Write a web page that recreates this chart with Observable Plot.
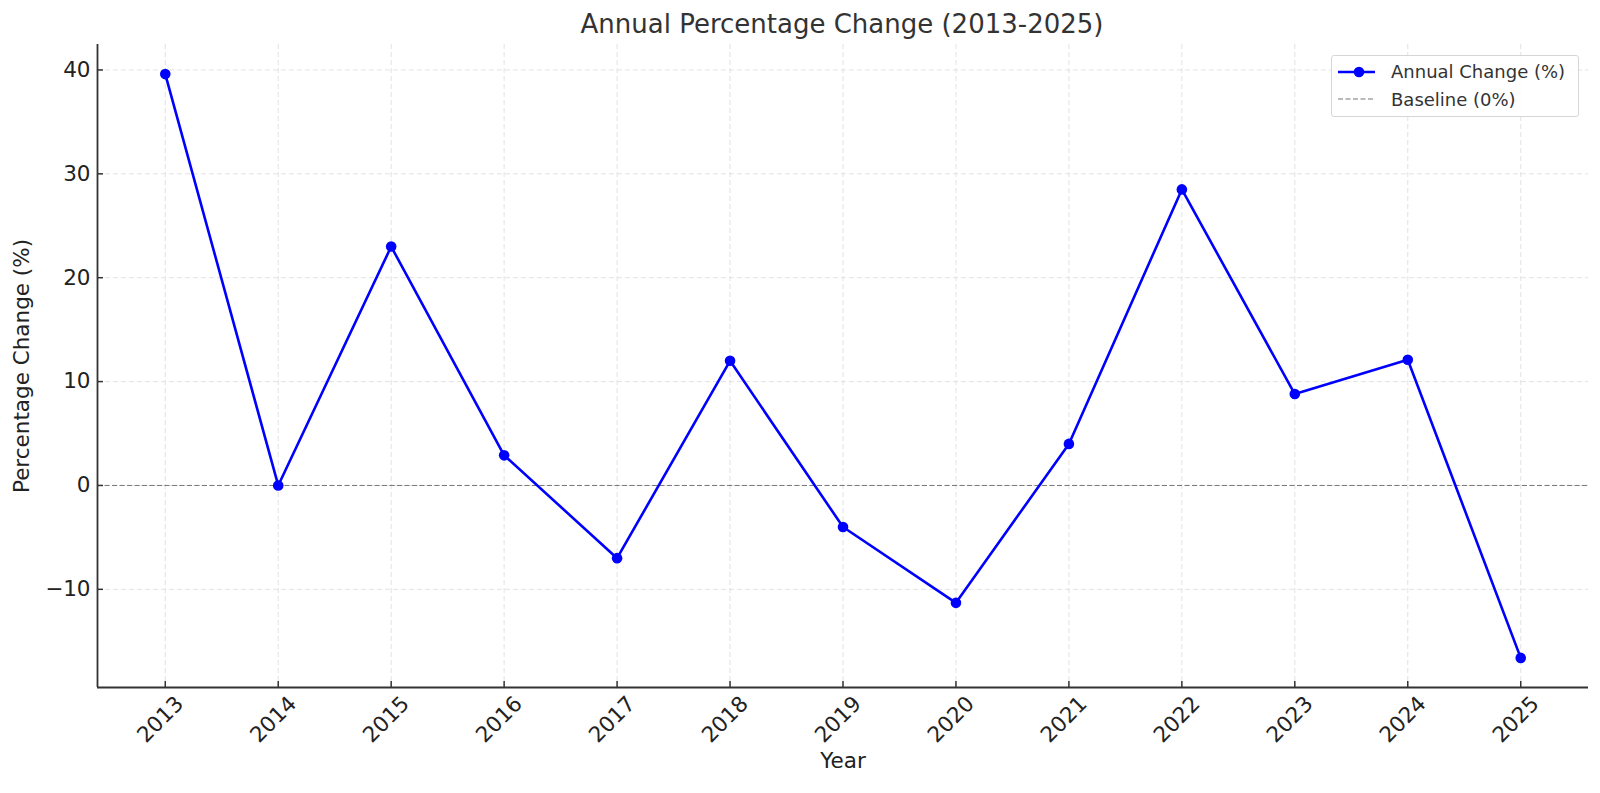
<!DOCTYPE html>
<html>
<head>
<meta charset="utf-8">
<script src="https://cdn.jsdelivr.net/npm/d3@7"></script>
<script src="https://cdn.jsdelivr.net/npm/@observablehq/plot@0.6"></script>
<style>
  html, body { margin: 0; padding: 0; background: #fff; }
  #wrap { position: relative; width: 1600px; height: 793px; font-family: "DejaVu Sans", sans-serif; color: #222; }
  #title { height: 40px; line-height: 48px; padding-left: 84px; text-align: center; font-size: 26px; color: #333; white-space: nowrap; }
  #legend { position: absolute; left: 1331px; top: 55px; width: 246px; height: 60px; border: 1px solid #d6d6d6; border-radius: 3px; background: rgba(255,255,255,0.85); font-size: 18px; color: #333; }
  .row { position: absolute; left: 0; height: 24px; display: flex; align-items: center; white-space: nowrap; }
  .row svg { margin-left: 6px; margin-right: 16px; }
</style>
</head>
<body>
<div id="wrap">
  <div id="title">Annual Percentage Change (2013-2025)</div>
  <div id="chart"></div>
  <div id="legend">
    <div class="row" style="top:3.7px"><svg width="37" height="12"><line x1="0" y1="6" x2="37" y2="6" stroke="#0000ff" stroke-width="2.6"/><circle cx="21" cy="6" r="5.3" fill="#0000ff"/></svg><span>Annual Change (%)</span></div>
    <div class="row" style="top:31.3px"><svg width="37" height="12"><line x1="0" y1="6" x2="37" y2="6" stroke="#777" stroke-width="1" stroke-dasharray="5,2.5"/></svg><span>Baseline (0%)</span></div>
  </div>
</div>
<script>
const years = [2013, 2014, 2015, 2016, 2017, 2018, 2019, 2020, 2021, 2022, 2023, 2024, 2025];
const changes = [39.6, 0.0, 23.0, 2.9, -7.0, 12.0, -4.0, -11.3, 4.0, 28.5, 8.8, 12.1, -16.6];
const yTicks = [-10, 0, 10, 20, 30, 40];
const xLabel = "Year";
const yLabel = "Percentage Change (%)";

const data = years.map((year, i) => ({year, value: changes[i]}));

const width = 1600, height = 753;
const mL = 97, mR = 12, mT = 4, mB = 106;
const xDom = [2012.4, 2025.6];
const yDom = [-19.45, 42.45];
const pxX = (width - mL - mR) / (xDom[1] - xDom[0]);
const pxY = (height - mT - mB) / (yDom[1] - yDom[0]);
const tickLen = 6;
const fs = 21.5;

const chart = Plot.plot({
  width, height,
  marginLeft: mL, marginRight: mR, marginTop: mT, marginBottom: mB,
  style: {fontFamily: "'DejaVu Sans', sans-serif", fontSize: fs + "px", color: "#222", background: "#fff"},
  x: {domain: xDom, axis: null},
  y: {domain: yDom, axis: null},
  marks: [
    Plot.gridX(years, {stroke: "#e2e2e2", strokeOpacity: 1, strokeDasharray: "5,3", strokeWidth: 1}),
    Plot.gridY(yTicks, {stroke: "#e2e2e2", strokeOpacity: 1, strokeDasharray: "5,3", strokeWidth: 1}),
    Plot.ruleY([0], {stroke: "#777", strokeWidth: 1, strokeDasharray: "5,2.5"}),
    Plot.line(data, {x: "year", y: "value", stroke: "#0000ff", strokeWidth: 2.6}),
    Plot.dot(data, {x: "year", y: "value", r: 5.3, fill: "#0000ff", stroke: null}),
    // spines
    Plot.ruleX([xDom[0]], {stroke: "#333", strokeWidth: 1.8}),
    Plot.ruleY([yDom[0]], {stroke: "#333", strokeWidth: 1.8}),
    // inward ticks
    Plot.ruleY(yTicks, {x1: xDom[0], x2: xDom[0] + tickLen / pxX, stroke: "#333", strokeWidth: 1.5}),
    Plot.ruleX(years, {y1: yDom[0], y2: yDom[0] + tickLen / pxY, stroke: "#333", strokeWidth: 1.5}),
    // y tick labels
    Plot.axisY(yTicks, {anchor: "left", tickSize: 0, tickPadding: 7, fontSize: fs, fill: "#222", label: null,
      tickFormat: d => (d < 0 ? "\u2212" + Math.abs(d) : String(d))}),
    // x tick labels (rotated)
    Plot.text(years, {x: d => d, text: d => String(d), frameAnchor: "bottom", dy: 37, rotate: -45, fontSize: fs, fill: "#222"}),
    // axis labels
    Plot.text([xLabel], {frameAnchor: "bottom", dy: 80, fontSize: fs, fill: "#222"}),
    Plot.text([yLabel], {frameAnchor: "left", textAnchor: "middle", dx: -75, rotate: -90, fontSize: fs, fill: "#222"})
  ]
});
document.getElementById("chart").appendChild(chart);
</script>
</body>
</html>
